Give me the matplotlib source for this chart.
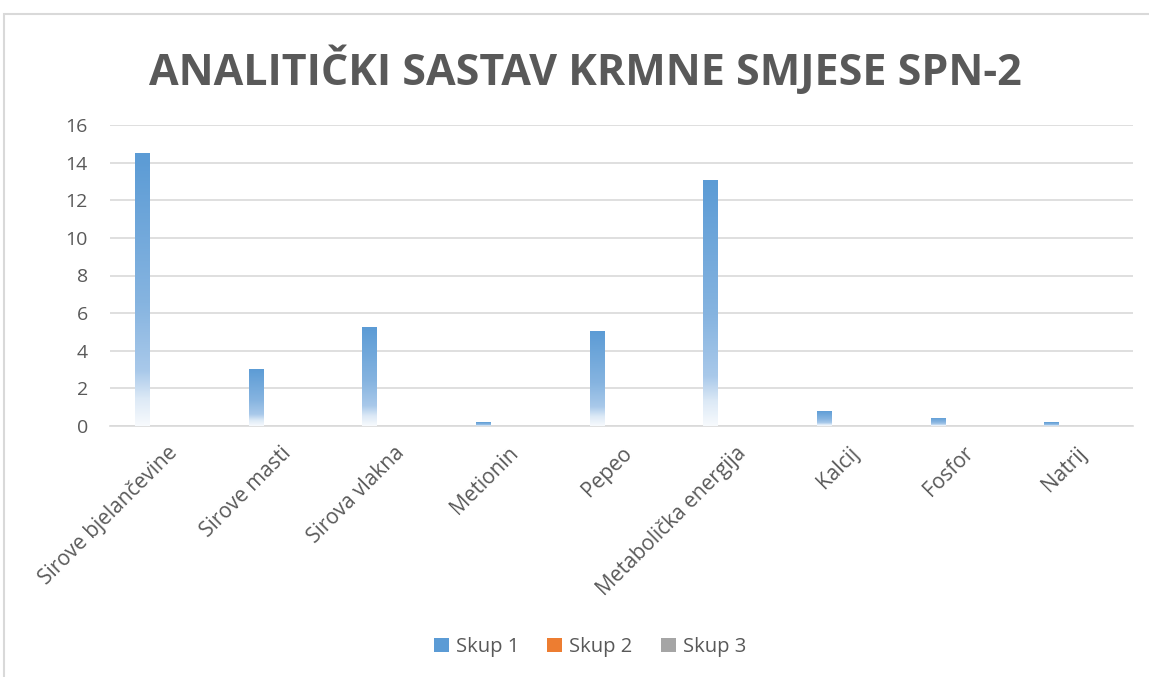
import numpy as np
import matplotlib
matplotlib.use("Agg")
import matplotlib.pyplot as plt
from matplotlib.patches import Rectangle, Patch
from matplotlib.colors import LinearSegmentedColormap

categories = ["Sirove bjelančevine", "Sirove masti", "Sirova vlakna", "Metionin",
              "Pepeo", "Metabolička energija", "Kalcij", "Fosfor", "Natrij"]
skup1 = [14.5, 3.03, 5.27, 0.2, 5.05, 13.08, 0.8, 0.43, 0.2]
skup2 = [0, 0, 0, 0, 0, 0, 0, 0, 0]
skup3 = [0, 0, 0, 0, 0, 0, 0, 0, 0]
series_names = ["Skup 1", "Skup 2", "Skup 3"]
series_colors = ["#5b9bd5", "#ed7d31", "#a5a5a5"]
title = "ANALITIČKI SASTAV KRMNE SMJESE SPN-2"

text_col = "#595959"
plt.rcParams['font.family'] = ['Open Sans', 'DejaVu Sans']

fig = plt.figure(figsize=(11.49, 6.77), dpi=100)
ax = fig.add_axes([110 / 1149, 1 - 426 / 677, (1133 - 110) / 1149, (426 - 125) / 677])

# chart border (Excel style)
fig.patches.append(Rectangle((4 / 1149, -0.1), 1.2, 1 - 14 / 677 + 0.1, transform=fig.transFigure,
                             fill=False, edgecolor="#d9d9d9", linewidth=1.5, zorder=0))


def gradient_bar(ax, x, h, w, color):
    if h <= 0:
        return
    grad = np.linspace(0, 1, 256).reshape(-1, 1)
    cmap = LinearSegmentedColormap.from_list(
        "g", [(0.0, "#f7fafd"), (0.10, "#dce9f6"), (0.20, "#a9c9ea"), (0.45, "#86b4e0"), (1.0, color)])
    im = ax.imshow(grad, cmap=cmap, origin="lower", aspect="auto",
                   extent=(x - w / 2, x + w / 2, 0, h), zorder=3, interpolation="bilinear")
    rect = Rectangle((x - w / 2, 0), w, h, transform=ax.transData, facecolor="none", edgecolor="none")
    ax.add_patch(rect)
    im.set_clip_path(rect)


x = np.arange(len(categories))
w = 0.13
offsets = [-0.214, 0.0, 0.214]
for vals, off, col in zip([skup1, skup2, skup3], offsets, series_colors):
    for xi, v in zip(x, vals):
        gradient_bar(ax, xi + off, v, w, col)

ax.set_xlim(-0.5, len(categories) - 0.5)
ax.set_ylim(0, 16)
ax.set_yticks(range(0, 17, 2))
ax.yaxis.grid(True, color="#d9d9d9", linewidth=1.2, zorder=0)
ax.set_axisbelow(True)
for s in ["top", "right", "left"]:
    ax.spines[s].set_visible(False)
ax.spines["bottom"].set_color("#d9d9d9")
ax.spines["bottom"].set_linewidth(1.2)
ax.tick_params(axis="y", length=0, pad=16, labelsize=14, labelcolor=text_col)
ax.tick_params(axis="x", length=0, pad=12)
ax.set_xticks(x)
ax.set_xticklabels(categories, rotation=45, ha="right", rotation_mode="anchor",
                   fontsize=15, color=text_col)

fig.text(585 / 1149, 1 - 70 / 677, title, ha="center", va="center", fontsize=31,
         fontweight="bold", color=text_col)

handles = [Patch(facecolor=c, edgecolor="none") for c in series_colors]
fig.legend(handles, series_names, loc="center", bbox_to_anchor=(590 / 1149, 1 - 647 / 677),
           ncol=3, frameon=False, fontsize=14.5, labelcolor=text_col, handlelength=0.75,
           handleheight=0.75, handletextpad=0.35, columnspacing=1.4)

fig.savefig("out.png", dpi=100, facecolor="white")
